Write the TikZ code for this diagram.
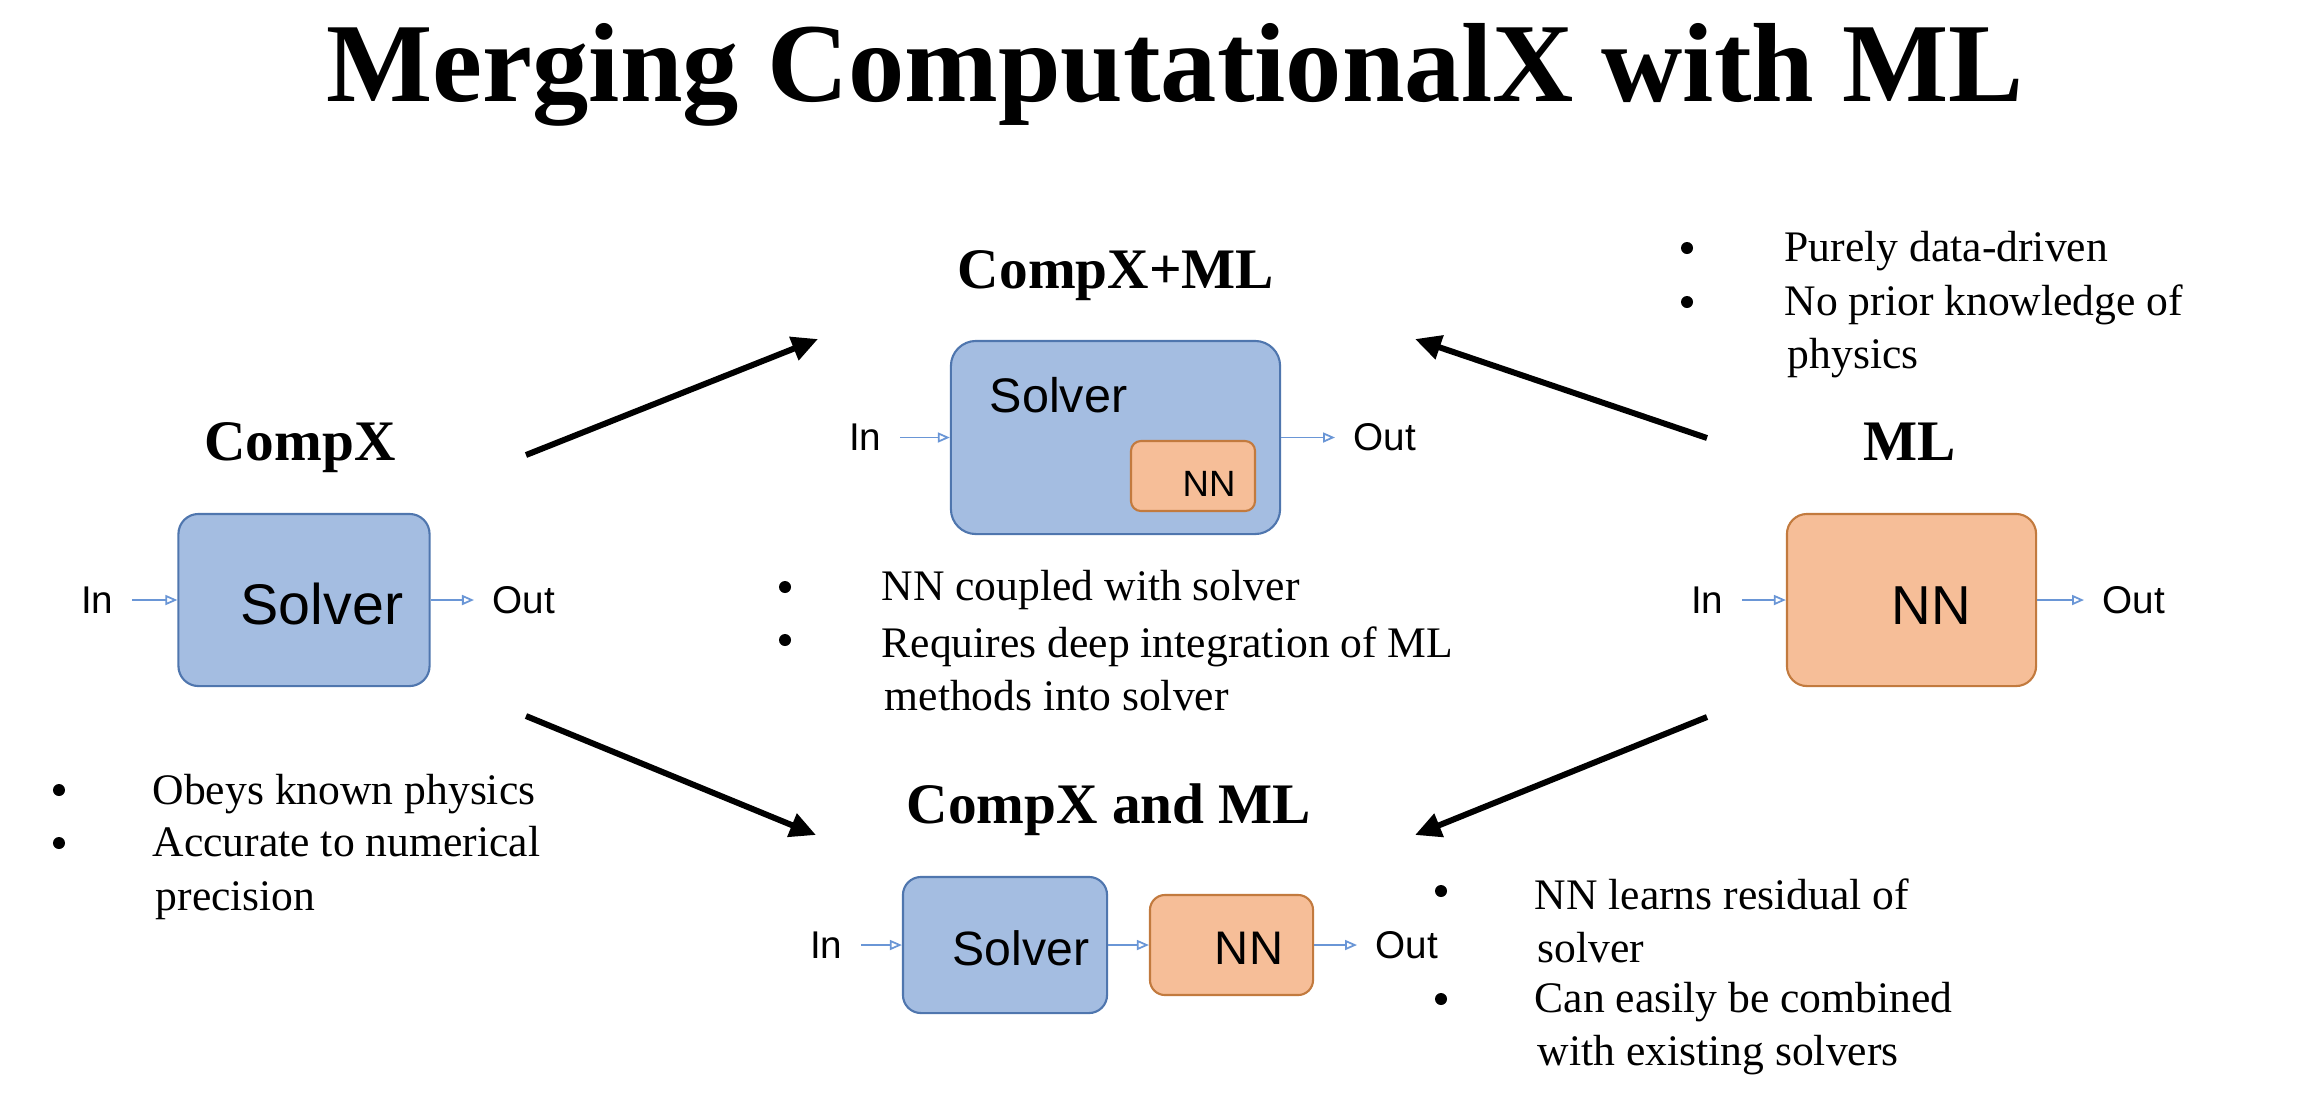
\documentclass[tikz,border=0pt]{standalone}
\usepackage{fontspec}
\setmainfont{Liberation Serif}
\setsansfont{Liberation Sans}
\usetikzlibrary{arrows.meta}
\definecolor{solverblau}{HTML}{A4BDE1}
\definecolor{solverrand}{HTML}{4F76AE}
\definecolor{nnorange}{HTML}{F6BE98}
\definecolor{nnrand}{HTML}{C27A3E}
\definecolor{flussblau}{HTML}{6A96D6}

\begin{document}
\begin{tikzpicture}[x=0.01cm, y=-0.01cm,
  solverbox/.style={draw=solverrand, fill=solverblau, line width=0.6pt},
  nnbox/.style={draw=nnrand, fill=nnorange, line width=0.6pt},
  io/.style={font=\sffamily\fontsize{11}{13}\selectfont, inner xsep=0.18cm, inner ysep=0},
  fluss/.style={draw=flussblau, line width=0.5pt, -{Triangle[open, length=0.12cm, width=0.1cm]}},
  haupt/.style={line width=1.7pt, -{Triangle[length=0.26cm, width=0.24cm]}},
  titel/.style={font=\bfseries\fontsize{16.3}{19}\selectfont, inner sep=0, anchor=base},
  punkt/.style={font=\fontsize{12.4}{15.1}\selectfont, align=left, inner sep=0, anchor=west},
  blob/.style={circle, fill=black, inner sep=0, minimum size=0.12cm}]

  \useasboundingbox (0,0) rectangle (2318,1102);
  % Ueberschrift
  \node[font=\bfseries\fontsize{32}{38}\selectfont, anchor=base, inner sep=0] (kopf) at (1175,101) {Merging ComputationalX with ML};

  % CompX (links)
  \node[titel] (compx) at (300,460) {CompX};
  \node[solverbox, rounded corners=0.2cm, minimum width=2.51cm, minimum height=1.72cm] (s1) at (304,600) {};
  \node[font=\sffamily\fontsize{16.3}{19}\selectfont, inner sep=0] (s1t) at (322,604) {Solver};
  \node[io, anchor=east] (in1) at (132,600) {In};
  \node[io, anchor=west] (out1) at (474,600) {Out};
  \draw[fluss] (in1) -- (s1);
  \draw[fluss] (s1) -- (out1);
  \node[blob] (b1a) at (59,790) {};
  \node[punkt] (t1a) at (152,794) {Obeys known physics};
  \node[blob] (b1b) at (59,843) {};
  \node[punkt] (t1b) at (152,873) {Accurate to numerical\\\hspace*{0.03cm}precision};

  % CompX+ML (oben)
  \node[titel] (cxml) at (1116,288) {CompX+ML};
  \node[solverbox, rounded corners=0.25cm, minimum width=3.29cm, minimum height=1.93cm] (s2) at (1115.5,437.5) {};
  \node[font=\sffamily\fontsize{13.8}{16}\selectfont, inner sep=0, anchor=west] (s2t) at (989,395) {Solver};
  \node[nnbox, rounded corners=0.1cm, minimum width=1.24cm, minimum height=0.70cm] (n2) at (1193,476) {};
  \node[font=\sffamily\fontsize{10.4}{12}\selectfont, inner sep=0] (n2t) at (1209,484) {NN};
  \node[io, anchor=east] (in2) at (900,437.5) {In};
  \node[io, anchor=west] (out2) at (1335,437.5) {Out};
  \draw[fluss] (in2) -- (s2);
  \draw[fluss] (s2) -- (out2);
  \node[blob] (b2a) at (785,587) {};
  \node[punkt] (t2a) at (881,590) {NN coupled with solver};
  \node[blob] (b2b) at (785,640) {};
  \node[punkt] (t2b) at (881,669) {Requires deep integration of ML\\\hspace*{0.03cm}methods into solver};

  % CompX and ML (unten)
  \node[titel] (cxundml) at (1109,823) {CompX and ML};
  \node[solverbox, rounded corners=0.18cm, minimum width=2.04cm, minimum height=1.36cm] (s3) at (1005,945) {};
  \node[font=\sffamily\fontsize{13.7}{16}\selectfont, inner sep=0] (s3t) at (1021,948) {Solver};
  \node[nnbox, rounded corners=0.15cm, minimum width=1.63cm, minimum height=1.00cm] (n3) at (1231.5,945) {};
  \node[font=\sffamily\fontsize{13.4}{16}\selectfont, inner sep=0] (n3t) at (1249,948) {NN};
  \node[io, anchor=east] (in3) at (861,945) {In};
  \node[io, anchor=west] (out3) at (1357,945) {Out};
  \draw[fluss] (in3) -- (s3);
  \draw[fluss] (s3) -- (n3);
  \draw[fluss] (n3) -- (out3);
  \node[blob] (b3a) at (1441,891) {};
  \node[punkt] (t3a) at (1534,921) {NN learns residual of\\\hspace*{0.03cm}solver};
  \node[blob] (b3b) at (1441,999) {};
  \node[punkt] (t3b) at (1534,1028.5) {Can easily be combined\\\hspace*{0.03cm}with existing solvers};

  % ML (rechts)
  \node[titel] (ml) at (1910,460) {ML};
  \node[nnbox, rounded corners=0.2cm, minimum width=2.49cm, minimum height=1.72cm] (n4) at (1911.5,600) {};
  \node[font=\sffamily\fontsize{15.6}{18}\selectfont, inner sep=0] (n4t) at (1931,606) {NN};
  \node[io, anchor=east] (in4) at (1742,600) {In};
  \node[io, anchor=west] (out4) at (2084,600) {Out};
  \draw[fluss] (in4) -- (n4);
  \draw[fluss] (n4) -- (out4);
  \node[blob] (b4a) at (1687,248) {};
  \node[punkt] (t4a) at (1784,251) {Purely data-driven};
  \node[blob] (b4b) at (1687,302) {};
  \node[punkt] (t4b) at (1784,331.5) {No prior knowledge of\\\hspace*{0.03cm}physics};

  % Hauptpfeile
  \coordinate (p1a) at (526,455);  \coordinate (p1b) at (818,339);
  \coordinate (p2a) at (526,716);  \coordinate (p2b) at (816,835);
  \coordinate (p3a) at (1707,438); \coordinate (p3b) at (1415,339);
  \coordinate (p4a) at (1707,717); \coordinate (p4b) at (1415,835);
  \draw[haupt] (p1a) -- (p1b);
  \draw[haupt] (p2a) -- (p2b);
  \draw[haupt] (p3a) -- (p3b);
  \draw[haupt] (p4a) -- (p4b);
\end{tikzpicture}
\end{document}
